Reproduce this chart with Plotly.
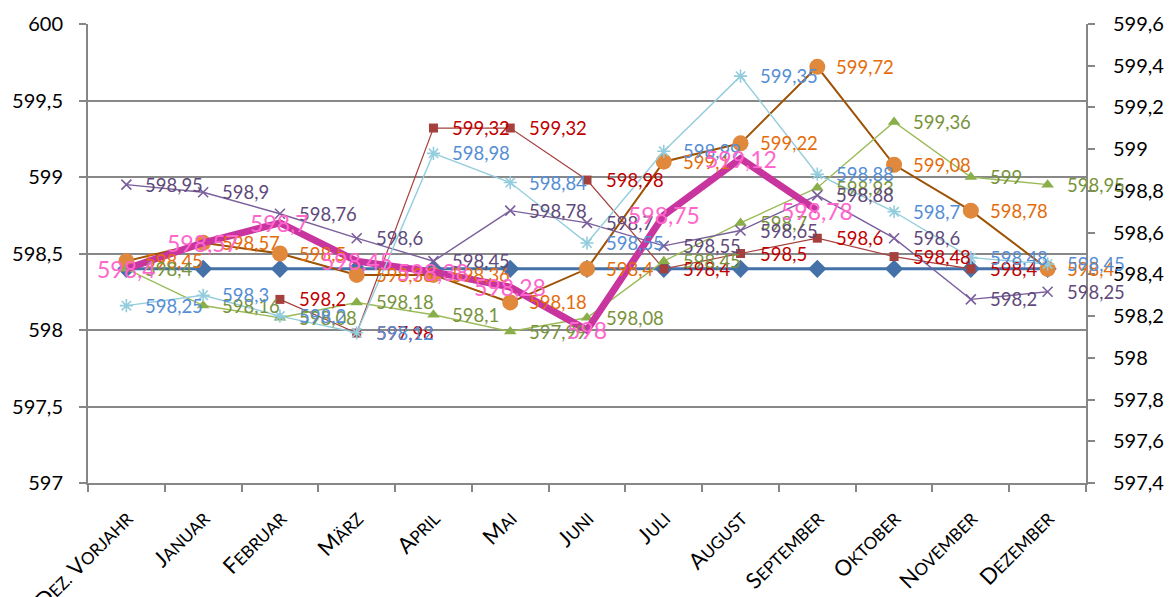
import plotly.graph_objects as go

months = ["DEZ. VORJAHR", "JANUAR", "FEBRUAR", "MÄRZ", "APRIL", "MAI", "JUNI",
          "JULI", "AUGUST", "SEPTEMBER", "OKTOBER", "NOVEMBER", "DEZEMBER"]

# left-axis series
blue_ref = [598.4] * 13
orange = [598.45, 598.57, 598.5, 598.36, 598.36, 598.18, 598.4, 599.1, 599.22, 599.72, 599.08, 598.78, 598.4]
red = [None, None, 598.2, 597.98, 599.32, 599.32, 598.98, 598.4, 598.5, 598.6, 598.48, 598.4, None]
green = [598.4, 598.16, 598.08, 598.18, 598.1, 597.99, 598.08, 598.45, 598.7, 598.93, 599.36, 599.0, 598.95]
purple = [598.95, 598.9, 598.76, 598.6, 598.45, 598.78, 598.7, 598.55, 598.65, 598.88, 598.6, 598.2, 598.25]
pink = [598.4, 598.57, 598.7, 598.45, 598.38, 598.28, 598.0, 598.75, 599.12, 598.78, None, None, None]
# right-axis series
lightblue = [598.25, 598.3, 598.2, 598.12, 598.98, 598.84, 598.55, 598.99, 599.35, 598.88, 598.7, 598.48, 598.45]

left_ticks = [597, 597.5, 598, 598.5, 599, 599.5, 600]
right_ticks = [597.4, 597.6, 597.8, 598, 598.2, 598.4, 598.6, 598.8, 599, 599.2, 599.4, 599.6]

FONT = "Lato"


def smallcaps(label, big=22, small=17):
    out = []
    for word in label.split(" "):
        if len(word) > 1:
            out.append(f"<span style='font-size:{big}px'>{word[0]}</span>"
                       f"<span style='font-size:{small}px'>{word[1:]}</span>")
        else:
            out.append(word)
    return " ".join(out)


tick_text = [smallcaps(m) for m in months]


def fmt(v):
    return f"{v:g}".replace(".", ",")


fig = go.Figure()

fig.add_trace(go.Scatter(x=months, y=blue_ref, mode="lines+markers", name="Referenz",
                         line=dict(color="#4472A8", width=3),
                         marker=dict(symbol="diamond", size=14, color="#4472A8")))
fig.add_trace(go.Scatter(x=months, y=orange, mode="lines+markers", name="Reihe Orange",
                         line=dict(color="#9E5204", width=2),
                         marker=dict(symbol="circle", size=16, color="#E0883C")))
fig.add_trace(go.Scatter(x=months, y=red, mode="lines+markers", name="Reihe Rot",
                         line=dict(color="#A5403D", width=1.2),
                         marker=dict(symbol="square", size=9, color="#A5403D")))
fig.add_trace(go.Scatter(x=months, y=green, mode="lines+markers", name="Reihe Grün",
                         line=dict(color="#9BBB59", width=1.4),
                         marker=dict(symbol="triangle-up", size=11, color="#8AAE4A")))
fig.add_trace(go.Scatter(x=months, y=purple, mode="lines+markers", name="Reihe Violett",
                         line=dict(color="#7A5F9C", width=1.4),
                         marker=dict(symbol="x-thin-open", size=10,
                                     line=dict(color="#6A5090", width=1.6))))
fig.add_trace(go.Scatter(x=months, y=pink, mode="lines", name="Reihe Pink",
                         line=dict(color="#C8359F", width=7)))
fig.add_trace(go.Scatter(x=months, y=lightblue, mode="lines+markers", name="Reihe Hellblau",
                         yaxis="y2",
                         line=dict(color="#93CDDD", width=1.4),
                         marker=dict(symbol="asterisk-open", size=11,
                                     line=dict(color="#93CDDD", width=1.6))))

annotations = []
label_sets = [
    (orange, "y", "#E46C0A"),
    (red, "y", "#C00000"),
    (green, "y", "#77933C"),
    (purple, "y", "#604A7B"),
    (lightblue, "y2", "#558ED5"),
]
for vals, yref, col in label_sets:
    for m, v in zip(months, vals):
        if v is None:
            continue
        annotations.append(dict(x=m, y=v, xref="x", yref=yref, text=fmt(v),
                                 showarrow=False, xanchor="left", yanchor="middle",
                                 xshift=17, font=dict(family=FONT, size=18.5, color=col)))
for m, v in zip(months, pink):
    if v is None:
        continue
    annotations.append(dict(x=m, y=v, xref="x", yref="y", text=fmt(v),
                             showarrow=False, xanchor="center", yanchor="middle",
                             font=dict(family=FONT, size=23, color="#FF66CC")))

# the page body adds an 8px offset, so the figure is 8px smaller on each side
fig.update_layout(
    width=1166, height=589,
    margin=dict(l=80, r=88, t=16, b=114, autoexpand=False),
    paper_bgcolor="white", plot_bgcolor="white",
    separators=",.",
    showlegend=False,
    font=dict(family=FONT, color="#000000"),
    annotations=annotations,
    xaxis=dict(type="category", categoryorder="array", categoryarray=months,
               range=[-0.5, 12.5], automargin=False,
               tickmode="array", tickvals=months, ticktext=tick_text,
               tickangle=-45, tickson="boundaries", ticks="outside", ticklen=7,
               tickcolor="#868686", tickwidth=2,
               showline=True, linecolor="#868686", linewidth=2,
               showgrid=False, ticklabelstandoff=12,
               tickfont=dict(family=FONT, size=22, color="#000000")),
    yaxis=dict(range=[597, 600], tickvals=left_ticks, ticks="outside", ticklen=7,
               automargin=False,
               tickcolor="#868686", tickwidth=2,
               showline=True, linecolor="#868686", linewidth=2,
               showgrid=True, gridcolor="#888888", gridwidth=2,
               zeroline=False, ticklabelstandoff=12,
               tickfont=dict(family=FONT, size=20, color="#000000")),
    yaxis2=dict(range=[597.4, 599.6], tickvals=right_ticks, overlaying="y", side="right",
                automargin=False,
                ticks="outside", ticklen=7, tickcolor="#868686", tickwidth=2,
                showline=True, linecolor="#868686", linewidth=2,
                showgrid=False, zeroline=False, ticklabelstandoff=14,
                tickfont=dict(family=FONT, size=20, color="#000000")),
)

fig.write_html("out.html")
